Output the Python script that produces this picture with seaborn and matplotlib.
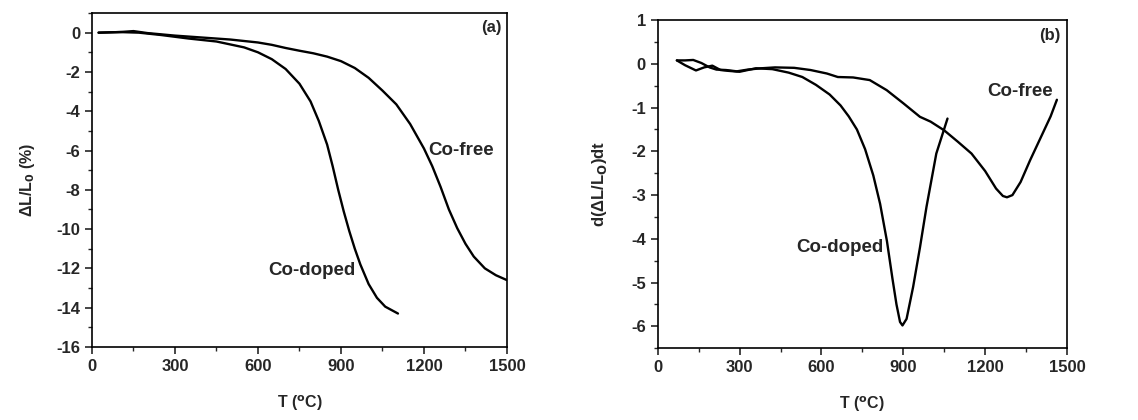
import numpy as np
import pandas as pd
import matplotlib
matplotlib.use("Agg")
import matplotlib.pyplot as plt
import seaborn as sns
from matplotlib.ticker import MultipleLocator

# Panel (a): shrinkage dL/L0 (%)
a_free_T = [24, 100, 150, 200, 300, 400, 500, 600, 650, 700, 750, 800, 850, 900, 950, 1000,
            1050, 1100, 1150, 1200, 1230, 1260, 1290, 1320, 1350, 1380, 1420, 1460, 1500]
a_free_v = [0.0, 0.03, 0.08, -0.02, -0.15, -0.25, -0.35, -0.5, -0.62, -0.78, -0.92, -1.05,
            -1.22, -1.45, -1.8, -2.3, -2.95, -3.65, -4.65, -5.9, -6.8, -7.85, -9.0, -9.95,
            -10.75, -11.4, -12.0, -12.35, -12.6]
a_dop_T = [24, 100, 170, 250, 350, 450, 550, 600, 650, 700, 750, 790, 820, 850, 870, 890,
           910, 930, 950, 970, 1000, 1030, 1060, 1106]
a_dop_v = [0.0, 0.03, 0.0, -0.12, -0.3, -0.45, -0.75, -1.0, -1.35, -1.85, -2.6, -3.5, -4.5,
           -5.7, -6.8, -8.0, -9.1, -10.1, -11.0, -11.8, -12.8, -13.5, -13.95, -14.3]

# Panel (b): derivative d(dL/L0)/dt
b_free_T = [70, 100, 130, 160, 190, 215, 250, 290, 330, 380, 430, 500, 560, 620, 660, 716,
            777, 839, 900, 961, 1000, 1050, 1100, 1150, 1200, 1240, 1265, 1280, 1300, 1330,
            1365, 1410, 1440, 1463]
b_free_v = [0.08, 0.08, 0.09, 0.02, -0.08, -0.13, -0.14, -0.17, -0.13, -0.1, -0.08, -0.09,
            -0.14, -0.22, -0.3, -0.31, -0.37, -0.6, -0.9, -1.21, -1.32, -1.52, -1.78, -2.05,
            -2.45, -2.85, -3.02, -3.05, -3.0, -2.7, -2.2, -1.6, -1.2, -0.82]
b_dop_T = [70, 100, 140, 170, 200, 230, 260, 300, 360, 420, 480, 530, 580, 630, 670, 700,
           730, 760, 790, 815, 840, 860, 875, 888, 897, 912, 936, 961, 985, 1021, 1062]
b_dop_v = [0.08, -0.03, -0.15, -0.08, -0.04, -0.14, -0.16, -0.18, -0.1, -0.12, -0.2, -0.3,
           -0.48, -0.7, -0.95, -1.2, -1.5, -1.95, -2.55, -3.2, -4.05, -4.9, -5.5, -5.9,
           -5.98, -5.83, -5.1, -4.2, -3.27, -2.05, -1.25]

sns.set_style("ticks")
plt.rcParams['font.family'] = ['Liberation Sans', 'DejaVu Sans']
plt.rcParams['font.weight'] = 'bold'
plt.rcParams['axes.labelweight'] = 'bold'
plt.rcParams['mathtext.default'] = 'bf'
plt.rcParams['axes.unicode_minus'] = False

fig = plt.figure(figsize=(11.38, 4.2), dpi=100)
ax1 = fig.add_axes([0.0808, 0.174, 0.3647, 0.795])
ax2 = fig.add_axes([0.578, 0.171, 0.3596, 0.781])

for ax, T, v in [(ax1, a_free_T, a_free_v), (ax1, a_dop_T, a_dop_v),
                 (ax2, b_free_T, b_free_v), (ax2, b_dop_T, b_dop_v)]:
    df = pd.DataFrame({"T": T, "v": v})
    sns.lineplot(data=df, x="T", y="v", ax=ax, color="black", lw=1.7, sort=False)

for ax in (ax1, ax2):
    ax.set_xlim(0, 1500)
    ax.xaxis.set_major_locator(MultipleLocator(300))
    ax.xaxis.set_minor_locator(MultipleLocator(150))
    ax.tick_params(which='major', direction='out', length=5, width=1.2, labelsize=12,
                   top=False, right=False)
    ax.tick_params(which='minor', direction='out', length=3, width=1.0,
                   top=False, right=False)
    for s in ax.spines.values():
        s.set_linewidth(1.2)
        s.set_color('black')
    ax.set_xlabel("T ($^{o}$C)", fontsize=11.5, fontweight='bold', labelpad=14)

ax1.set_ylim(-16, 1)
ax1.yaxis.set_major_locator(MultipleLocator(2))
ax1.yaxis.set_minor_locator(MultipleLocator(1))
ax1.set_ylabel("ΔL/L$_0$ (%)", fontsize=11.5, fontweight='bold', labelpad=14)
ax1.text(1442, 0.26, "(a)", fontsize=12, fontweight='bold', ha='center', va='center')
ax1.text(1335, -6.0, "Co-free", fontsize=13.5, fontweight='bold', ha='center', va='center')
ax1.text(794, -12.1, "Co-doped", fontsize=13.5, fontweight='bold', ha='center', va='center')

ax2.set_ylim(-6.5, 1)
ax2.yaxis.set_major_locator(MultipleLocator(1))
ax2.yaxis.set_minor_locator(MultipleLocator(0.5))
ax2.set_ylabel("d(ΔL/L$_O$)dt", fontsize=12, fontweight='bold', labelpad=16)
ax2.text(1436, 0.66, "(b)", fontsize=12, fontweight='bold', ha='center', va='center')
ax2.text(1327, -0.64, "Co-free", fontsize=13.5, fontweight='bold', ha='center', va='center')
ax2.text(668, -4.19, "Co-doped", fontsize=13.5, fontweight='bold', ha='center', va='center')

for ax in (ax1, ax2):
    for lab in ax.get_xticklabels() + ax.get_yticklabels():
        lab.set_fontweight('bold')

fig.savefig("out.png", dpi=100)
